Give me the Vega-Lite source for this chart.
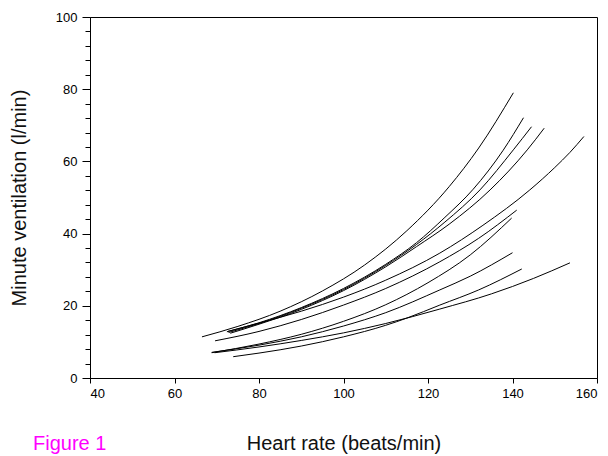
{
  "$schema": "https://vega.github.io/schema/vega-lite/v6.json",
  "autosize": "none",
  "width": 507,
  "height": 361,
  "padding": {"left": 90, "top": 17, "right": 11, "bottom": 78},
  "background": "white",
  "config": {
    "view": {"stroke": "black", "strokeWidth": 1},
    "font": "Liberation Sans"
  },
  "title": {
    "text": "Figure 1",
    "orient": "bottom",
    "anchor": "start",
    "frame": "group",
    "color": "#FF00FF",
    "fontSize": 20,
    "font": "Liberation Sans",
    "fontWeight": "normal",
    "dx": -57,
    "dy": -19,
    "offset": 0
  },
  "data": {
    "values": [
      {"id": 1, "hr": 66.5, "ve": 11.4}, {"id": 1, "hr": 75, "ve": 14.3}, {"id": 1, "hr": 85, "ve": 18.5}, {"id": 1, "hr": 95, "ve": 24.1}, {"id": 1, "hr": 105, "ve": 31.3}, {"id": 1, "hr": 115, "ve": 40.8}, {"id": 1, "hr": 125, "ve": 53.0}, {"id": 1, "hr": 132, "ve": 63.7}, {"id": 1, "hr": 140.2, "ve": 79.0},
      {"id": 2, "hr": 72.4, "ve": 12.8}, {"id": 2, "hr": 80, "ve": 15.3}, {"id": 2, "hr": 90, "ve": 19.5}, {"id": 2, "hr": 100, "ve": 24.8}, {"id": 2, "hr": 110, "ve": 31.5}, {"id": 2, "hr": 117.3, "ve": 37.5}, {"id": 2, "hr": 124, "ve": 44.5}, {"id": 2, "hr": 130.7, "ve": 52.3}, {"id": 2, "hr": 137.8, "ve": 63.1}, {"id": 2, "hr": 142.6, "ve": 72.1},
      {"id": 3, "hr": 72.8, "ve": 12.6}, {"id": 3, "hr": 80, "ve": 15.1}, {"id": 3, "hr": 90, "ve": 19.3}, {"id": 3, "hr": 100, "ve": 24.5}, {"id": 3, "hr": 110, "ve": 31.2}, {"id": 3, "hr": 117.3, "ve": 37.0}, {"id": 3, "hr": 124, "ve": 43.2}, {"id": 3, "hr": 132.3, "ve": 52.1}, {"id": 3, "hr": 140.2, "ve": 63.2}, {"id": 3, "hr": 144.5, "ve": 69.6},
      {"id": 4, "hr": 73.2, "ve": 12.4}, {"id": 4, "hr": 80, "ve": 14.9}, {"id": 4, "hr": 90, "ve": 19.0}, {"id": 4, "hr": 100, "ve": 24.2}, {"id": 4, "hr": 110, "ve": 30.8}, {"id": 4, "hr": 117.3, "ve": 36.4}, {"id": 4, "hr": 125, "ve": 42.6}, {"id": 4, "hr": 134.7, "ve": 52.1}, {"id": 4, "hr": 143.5, "ve": 63.2}, {"id": 4, "hr": 147.5, "ve": 69.2},
      {"id": 5, "hr": 72.6, "ve": 12.9}, {"id": 5, "hr": 80, "ve": 15.2}, {"id": 5, "hr": 90, "ve": 18.5}, {"id": 5, "hr": 100, "ve": 22.4}, {"id": 5, "hr": 110, "ve": 27.1}, {"id": 5, "hr": 122.8, "ve": 34.6}, {"id": 5, "hr": 133, "ve": 42.3}, {"id": 5, "hr": 144.1, "ve": 52.1}, {"id": 5, "hr": 150, "ve": 58.3}, {"id": 5, "hr": 153.6, "ve": 62.5}, {"id": 5, "hr": 156.9, "ve": 66.9},
      {"id": 6, "hr": 69.6, "ve": 10.3}, {"id": 6, "hr": 80, "ve": 12.9}, {"id": 6, "hr": 90, "ve": 16.2}, {"id": 6, "hr": 100, "ve": 20.2}, {"id": 6, "hr": 110, "ve": 24.8}, {"id": 6, "hr": 122.8, "ve": 32.2}, {"id": 6, "hr": 132, "ve": 38.7}, {"id": 6, "hr": 141, "ve": 46.5},
      {"id": 7, "hr": 68.8, "ve": 7.0}, {"id": 7, "hr": 80, "ve": 9.4}, {"id": 7, "hr": 90, "ve": 12.1}, {"id": 7, "hr": 100, "ve": 15.7}, {"id": 7, "hr": 110, "ve": 20.3}, {"id": 7, "hr": 120, "ve": 26.4}, {"id": 7, "hr": 130, "ve": 34.1}, {"id": 7, "hr": 139.8, "ve": 44.3},
      {"id": 8, "hr": 68.8, "ve": 7.1}, {"id": 8, "hr": 80, "ve": 9.1}, {"id": 8, "hr": 90, "ve": 11.4}, {"id": 8, "hr": 100, "ve": 14.4}, {"id": 8, "hr": 110, "ve": 18.1}, {"id": 8, "hr": 122.8, "ve": 24.4}, {"id": 8, "hr": 130, "ve": 28.2}, {"id": 8, "hr": 140, "ve": 34.7},
      {"id": 9, "hr": 73.9, "ve": 5.9}, {"id": 9, "hr": 80, "ve": 6.9}, {"id": 9, "hr": 90, "ve": 8.85}, {"id": 9, "hr": 100, "ve": 11.4}, {"id": 9, "hr": 110, "ve": 14.6}, {"id": 9, "hr": 115, "ve": 16.6}, {"id": 9, "hr": 122.8, "ve": 20.2}, {"id": 9, "hr": 132, "ve": 24.4}, {"id": 9, "hr": 142.2, "ve": 30.2},
      {"id": 10, "hr": 69.5, "ve": 7.0}, {"id": 10, "hr": 80, "ve": 8.6}, {"id": 10, "hr": 90, "ve": 10.4}, {"id": 10, "hr": 100, "ve": 12.5}, {"id": 10, "hr": 110, "ve": 15.1}, {"id": 10, "hr": 122.8, "ve": 19.1}, {"id": 10, "hr": 135, "ve": 23.3}, {"id": 10, "hr": 145, "ve": 27.6}, {"id": 10, "hr": 153.6, "ve": 31.9}
    ]
  },
  "mark": {"type": "line", "color": "black", "strokeWidth": 1, "interpolate": "monotone"},
  "encoding": {
    "x": {
      "field": "hr",
      "type": "quantitative",
      "scale": {"domain": [40, 160], "nice": false, "zero": false},
      "axis": {
        "title": "Heart rate (beats/min)",
        "values": [40, 60, 80, 100, 120, 140, 160],
        "grid": false,
        "domainColor": "black",
        "tickColor": "black",
        "tickSize": 5,
        "labelFontSize": 13,
        "labelColor": "black",
        "labelPadding": 4,
        "labelFont": "Liberation Sans",
        "titleFont": "Liberation Sans",
        "titleFontSize": 20,
        "titleFontWeight": "normal",
        "titleColor": "#111",
        "titleY": 55,
        "titleBaseline": "top"
      }
    },
    "y": {
      "field": "ve",
      "type": "quantitative",
      "scale": {"domain": [0, 100], "nice": false},
      "axis": {
        "title": "Minute ventilation (l/min)",
        "values": [0, 4, 8, 12, 16, 20, 24, 28, 32, 36, 40, 44, 48, 52, 56, 60, 64, 68, 72, 76, 80, 84, 88, 92, 96, 100],
        "labelExpr": "datum.value % 20 === 0 ? datum.label : ''",
        "grid": false,
        "domainColor": "black",
        "tickColor": "black",
        "tickSize": {"condition": {"test": "datum.value % 20 === 0", "value": 8}, "value": 5},
        "labelFontSize": 13,
        "labelColor": "black",
        "labelPadding": 5,
        "labelFont": "Liberation Sans",
        "titleFont": "Liberation Sans",
        "titleFontSize": 20,
        "titleFontWeight": "normal",
        "titleColor": "#111",
        "titleX": -65,
        "titleY": 180.5,
        "titleAlign": "center",
        "titleAngle": -90,
        "titleBaseline": "alphabetic"
      }
    },
    "detail": {"field": "id", "type": "nominal"}
  }
}
